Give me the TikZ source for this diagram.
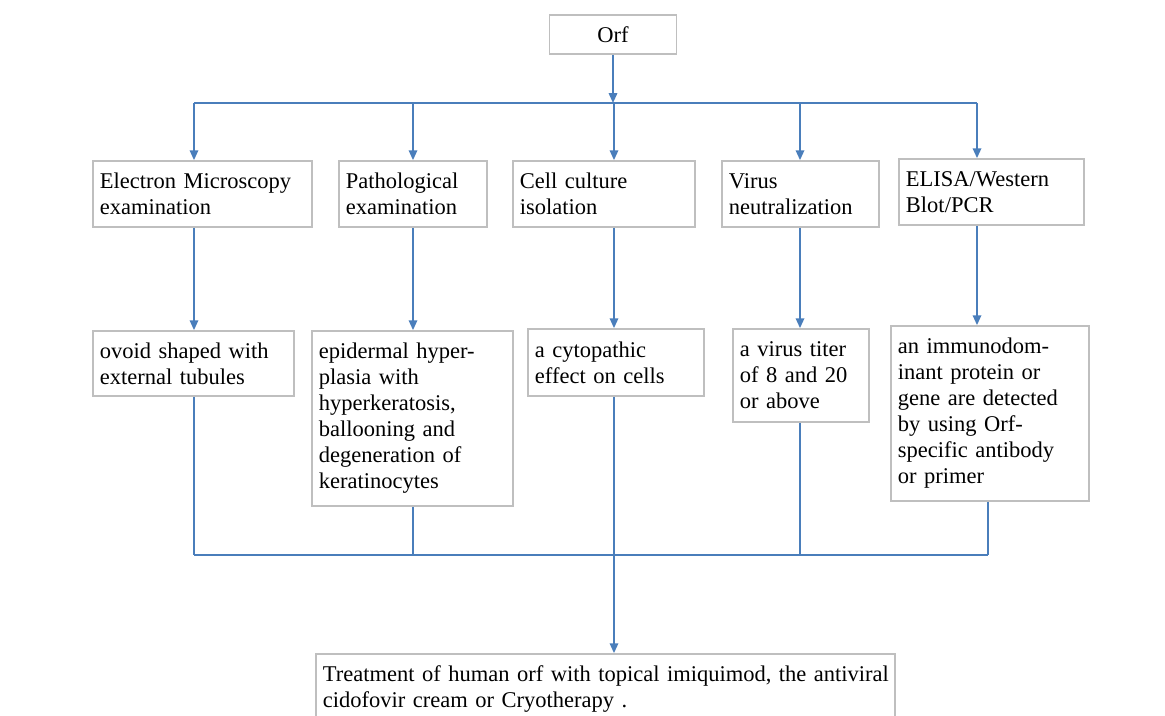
\documentclass[tikz,border=0pt]{standalone}
\usepackage{fontspec}
\setmainfont{Liberation Serif}
\usetikzlibrary{arrows.meta}
\definecolor{linkblue}{HTML}{4A7EBB}
\definecolor{boxgray}{HTML}{BFBFBF}

\begin{document}
\begin{tikzpicture}[->,>={Stealth[length=7pt,width=6pt,inset=0pt]},x=0.025cm,y=-0.025cm,
	main node/.style={rectangle, draw=boxgray, line width=1.2pt, align=left, inner xsep=0.175cm, inner ysep=0pt,
	  font=\fontsize{16}{18.5}\selectfont},
	link/.style={draw=linkblue, line width=1.3pt}]

	\useasboundingbox (0,0) rectangle (1165,716);
	\clip (0,0) rectangle (1165,716);

	% top
	\node[main node, align=center, minimum width=3.175cm, minimum height=0.975cm] at (613,34.5) (orf) {Orf};

	% tests
	\node[main node, text width=5.125cm, minimum height=1.65cm] at (202.5,194) (em) {Electron Microscopy\\ examination};
	\node[main node, text width=3.35cm, minimum height=1.65cm] at (413,194) (patho) {Pathological\\ examination};
	\node[main node, text width=4.2cm, minimum height=1.65cm] at (604,194) (cell) {Cell culture\\ isolation};
	\node[main node, text width=3.575cm, minimum height=1.65cm] at (800.5,194) (virus) {Virus\\ neutralization};
	\node[main node, text width=4.275cm, minimum height=1.65cm] at (991.5,192) (elisa) {ELISA/Western\\ Blot/PCR};

	% findings
	\node[main node, text width=4.675cm, minimum height=1.625cm] at (193.5,363.5) (ovoid) {ovoid shaped with\\ external tubules};
	\node[main node, text width=4.675cm, minimum height=4.375cm] at (412.5,418.5) (epi) {epidermal hyper-\\ plasia with\\ hyperkeratosis,\\ ballooning and\\ degeneration of\\ keratinocytes};
	\node[main node, text width=4.05cm, minimum height=1.675cm] at (616,362.5) (cyto) {a cytopathic\\ effect on cells};
	\node[main node, text width=3.05cm, minimum height=2.325cm] at (801,375.5) (titer) {a virus titer\\ of 8 and 20\\ or above};
	\node[main node, text width=4.6cm, minimum height=4.375cm] at (990,413.5) (immuno) {an immunodom-\\ inant protein or\\ gene are detected\\ by using Orf-\\ specific antibody\\ or primer};

	% treatment
	\node[main node, text width=14.125cm, minimum height=1.75cm] at (605.5,689) (treat) {\mbox{Treatment of human orf with topical imiquimod, the antiviral}\\ cidofovir cream or Cryotherapy .};

	% branch points
	\coordinate (t1) at (194,103);
	\coordinate (t2) at (413,103);
	\coordinate (t3) at (614,103);
	\coordinate (t4) at (800,103);
	\coordinate (t5) at (977,103);
	\coordinate (b1) at (194,555);
	\coordinate (b2) at (413,555);
	\coordinate (b3) at (614,555);
	\coordinate (b4) at (800,555);
	\coordinate (b5) at (988,555);

	\draw[link] (orf) -- (orf |- t3);
	\draw[link,-] (t1) -- (t5);
	\foreach \t/\a/\b in {t1/em/ovoid, t2/patho/epi, t3/cell/cyto, t4/virus/titer, t5/elisa/immuno}
	  {
	  \draw[link] (\t) -- (\t |- \a.north);
	  \draw[link] (\t |- \a.south) -- (\t |- \b.north);
	  }
	\foreach \c/\b in {b1/ovoid, b2/epi, b3/cyto, b4/titer, b5/immuno}
	  \draw[link,-] (\c |- \b.south) -- (\c);
	\draw[link,-] (b1) -- (b5);
	\draw[link] (b3) -- (b3 |- treat.north);

\end{tikzpicture}
\end{document}
